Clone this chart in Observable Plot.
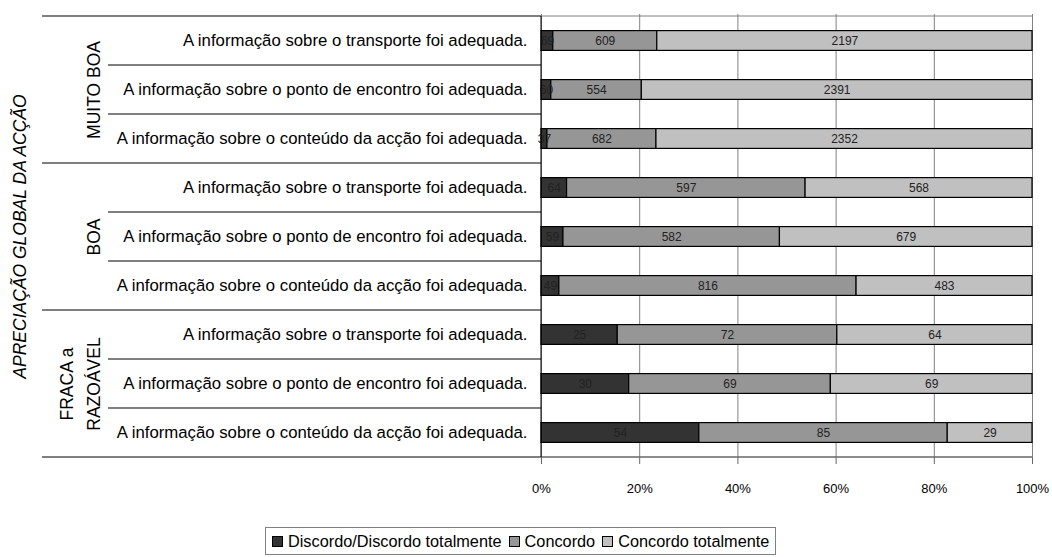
<!DOCTYPE html>
<html>
<head>
<meta charset="utf-8">
<script src="https://cdn.jsdelivr.net/npm/d3@7"></script>
<script src="https://cdn.jsdelivr.net/npm/@observablehq/plot@0.6"></script>
<style>
  html, body { margin: 0; padding: 0; background: #fff; }
  #wrap { position: relative; width: 1052px; height: 557px; font-family: "Liberation Sans", Arial, sans-serif; }
  #legend { position: absolute; left: 265px; top: 527px; height: 28px; border: 1px solid #808080; padding: 0 6px; display: flex; align-items: center; font-size: 16.3px; color: #000; white-space: nowrap; box-sizing: border-box; }
  #legend .item { display: flex; align-items: center; margin-right: 7px; }
  #legend .item:last-child { margin-right: 0; }
  #legend .sw { width: 9px; height: 9px; border: 1px solid #000; margin-right: 5px; }
</style>
</head>
<body>
<div id="wrap"><div id="chart"></div><div id="legend"></div></div>
<script>
const groups = ["MUITO BOA", "BOA", "FRACA a\nRAZOÁVEL"];
const questions = [
  "A informação sobre o transporte foi adequada.",
  "A informação sobre o ponto de encontro foi adequada.",
  "A informação sobre o conteúdo da acção foi adequada."
];
const categories = ["Discordo/Discordo totalmente", "Concordo", "Concordo totalmente"];
const discordo    = [69, 60, 37, 64, 59, 49, 25, 30, 54];
const concordo    = [609, 554, 682, 597, 582, 816, 72, 69, 85];
const concordoTot = [2197, 2391, 2352, 568, 679, 483, 64, 69, 29];
const xTicks = [0, 0.2, 0.4, 0.6, 0.8, 1];
const colors = ["#333333", "#969696", "#c0c0c0"];
const axisTitle = "APRECIAÇÃO GLOBAL DA ACÇÃO";

const rowKeys = [];
groups.forEach(g => questions.forEach(q => rowKeys.push(g + "|" + q)));
const series = [discordo, concordo, concordoTot];
const table = [];
rowKeys.forEach((row, i) => categories.forEach((cat, j) => table.push({row, cat, value: series[j][i]})));
const groupData = groups.map((g, i) => ({g, row: rowKeys[i * 3 + 1]}));

const font = "'Liberation Sans', Arial, sans-serif";
const chart = Plot.plot({
  width: 1052, height: 512,
  marginLeft: 541, marginRight: 20, marginTop: 14, marginBottom: 54,
  style: {fontFamily: font, fontSize: "15px", color: "#000", background: "#fff"},
  x: {domain: [0, 1]},
  y: {domain: rowKeys, padding: 0},
  color: {domain: categories, range: colors},
  marks: [
    Plot.gridX(xTicks, {stroke: "#808080", strokeOpacity: 1, strokeWidth: 1}),
    Plot.axisX({ticks: xTicks, tickFormat: d3.format(".0%"), tickSize: 6, tickPadding: 19, fontSize: 13, label: null, stroke: "#666"}),
    Plot.axisY({tickSize: 0, tickPadding: 14, tickFormat: k => k.split("|")[1], label: null, fontSize: 16.75}),
    Plot.barX(table, Plot.stackX({offset: "normalize", order: categories, x: "value", y: "row", fill: "cat", stroke: "#000", strokeWidth: 1.2, insetTop: 14.6, insetBottom: 14.6})),
    Plot.text(table, Plot.stackX({offset: "normalize", order: categories, x: "value", y: "row", z: "cat", text: d => String(d.value), fontSize: 12, fill: "#222"})),
    Plot.text(groupData, {frameAnchor: "left", y: "row", text: "g", rotate: -90, textAnchor: "middle", dx: -442, lineAnchor: "bottom", fontSize: 17.5, lineHeight: 1.5}),
    Plot.text([axisTitle], {frameAnchor: "left", text: d => d, rotate: -90, textAnchor: "middle", dx: -521, fontSize: 17.5, fontStyle: "italic"})
  ]
});
document.getElementById("chart").appendChild(chart);

// structural lines positioned via the chart scales
const xs = chart.scale("x"), ys = chart.scale("y");
const svg = d3.select(chart);
const xLeft = xs.apply(0), xRight = xs.apply(1);
const yTop = ys.apply(rowKeys[0]);
const step = ys.step;
const yBottom = ys.apply(rowKeys[rowKeys.length - 1]) + step;
const lines = svg.append("g");
rowKeys.forEach((k, i) => {
  const y = ys.apply(k);
  lines.append("line").attr("x1", i % 3 === 0 ? xLeft - 499 : xLeft - 433).attr("x2", xLeft)
    .attr("y1", y).attr("y2", y).attr("stroke", "#000").attr("stroke-width", 1);
});
lines.append("line").attr("x1", xLeft - 499).attr("x2", xLeft).attr("y1", yBottom).attr("y2", yBottom).attr("stroke", "#000");
lines.append("line").attr("x1", xLeft).attr("x2", xRight).attr("y1", yTop).attr("y2", yTop).attr("stroke", "#808080");
lines.append("line").attr("x1", xLeft).attr("x2", xRight).attr("y1", yBottom).attr("y2", yBottom).attr("stroke", "#666").attr("stroke-width", 1.5);
lines.append("line").attr("x1", xLeft).attr("x2", xLeft).attr("y1", yTop).attr("y2", yBottom).attr("stroke", "#000");

// legend
const legend = d3.select("#legend");
categories.forEach((c, i) => {
  const it = legend.append("div").attr("class", "item");
  it.append("div").attr("class", "sw").style("background", colors[i]);
  it.append("span").text(c);
});
</script>
</body>
</html>
